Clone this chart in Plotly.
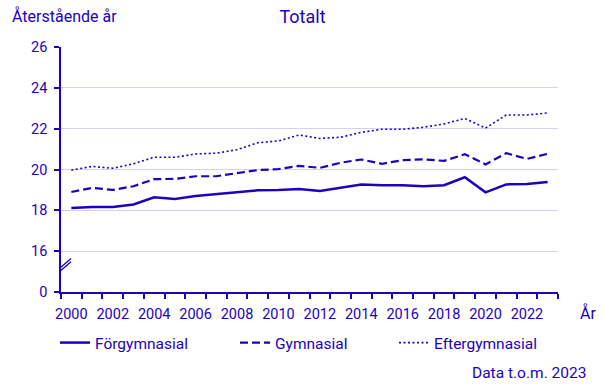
import plotly.graph_objects as go

years = list(range(2000, 2024))
forgymnasial = [18.11, 18.16, 18.16, 18.29, 18.64, 18.56, 18.70, 18.80, 18.88, 18.98, 19.00, 19.05,
                18.95, 19.11, 19.27, 19.23, 19.23, 19.18, 19.23, 19.62, 18.88, 19.27, 19.29, 19.39]
gymnasial = [18.90, 19.10, 19.00, 19.18, 19.53, 19.54, 19.67, 19.67, 19.82, 19.97, 20.02, 20.18,
             20.08, 20.33, 20.49, 20.28, 20.46, 20.50, 20.42, 20.75, 20.25, 20.80, 20.52, 20.77]
eftergymnasial = [19.97, 20.15, 20.06, 20.28, 20.60, 20.60, 20.76, 20.80, 20.97, 21.31, 21.40, 21.69,
                  21.52, 21.58, 21.82, 21.97, 21.97, 22.07, 22.23, 22.50, 22.03, 22.67, 22.67, 22.77]
series_names = ["Förgymnasial", "Gymnasial", "Eftergymnasial"]
ytick_vals = [14, 16, 18, 20, 22, 24, 26]
ytick_text = ["0", "16", "18", "20", "22", "24", "26"]
xtick_vals = list(range(2000, 2024, 2))

C = "#1E00BE"
GRID = "#d3d1f1"
FONT = "Roboto"

# plot area in pixels: x 61..558, y 47..292
PW, PH = 497, 245

fig = go.Figure()
styles = [dict(width=2.5, dash="solid"), dict(width=2.2, dash="8px,4px"), dict(width=1.6, dash="2px,2.5px")]
legend_ids = ["legend", "legend2", "legend3"]
legend_px = [55, 235, 394]
for name, vals, st, lid in zip(series_names, [forgymnasial, gymnasial, eftergymnasial], styles, legend_ids):
    fig.add_trace(go.Scatter(x=years, y=vals, name=name, mode="lines", legend=lid,
                             line=dict(color=C, width=st["width"], dash=st["dash"]),
                             hoverinfo="skip"))

leg_common = dict(orientation="h", xanchor="left", y=-(343 - 292) / PH, yanchor="middle",
                  font=dict(size=15.5, color=C, family=FONT), bgcolor="rgba(0,0,0,0)")
layout_legends = {}
for lid, px in zip(legend_ids, legend_px):
    layout_legends[lid] = dict(x=(px - 61) / PW, **leg_common)

fig.update_layout(
    width=605, height=386,
    margin=dict(l=61, r=47, t=47, b=94, autoexpand=False),
    paper_bgcolor="white", plot_bgcolor="white",
    font=dict(family=FONT, color=C, size=14),
    title=dict(text="Totalt", x=0.5, xref="container", xanchor="center",
               y=1 - 17 / 386, yref="container", yanchor="middle",
               font=dict(size=18, color=C, family=FONT)),
    showlegend=True,
    **layout_legends,
)
fig.update_xaxes(range=[1999.5, 2023.5], tickvals=xtick_vals, ticks="", showgrid=False,
                 showline=True, linecolor=C, linewidth=1.5, zeroline=False,
                 tickfont=dict(size=14.5, color=C), ticklabelstandoff=8,
                 minor=dict(tick0=1999.5, dtick=1, ticks="outside", ticklen=5, tickwidth=1.5,
                            tickcolor=C, showgrid=False))
fig.update_yaxes(range=[14, 26], tickvals=ytick_vals, ticktext=ytick_text, ticks="outside",
                 ticklen=5, tickwidth=1.5, tickcolor=C, showline=True, linecolor=C, linewidth=1.5,
                 gridcolor=GRID, gridwidth=1, zeroline=False, ticklabelstandoff=4,
                 tickfont=dict(size=14.5, color=C))

# axis break symbol
fig.add_shape(type="rect", xref="x", yref="y", xsizemode="pixel", xanchor=1999.5,
              x0=-3, x1=3, y0=14.98, y1=15.57, fillcolor="white", line=dict(width=0), layer="above")
for dy in (0.0, 0.16):
    fig.add_shape(type="line", xref="x", yref="y", xsizemode="pixel", xanchor=1999.5,
                  x0=-7, x1=10, y0=14.76 + dy, y1=15.48 + dy, line=dict(color=C, width=1.3),
                  layer="above")

fig.add_annotation(text="Återstående år", xref="paper", yref="paper", x=-(61 - 10) / PW,
                   xanchor="left", y=1 + (47 - 16) / PH, yanchor="middle", showarrow=False,
                   font=dict(size=16, color=C, family=FONT))
fig.add_annotation(text="År", xref="paper", yref="paper", x=1 + (578 - 558) / PW, xanchor="left",
                   y=-(313 - 292) / PH, yanchor="middle", showarrow=False,
                   font=dict(size=16, color=C, family=FONT))
fig.add_annotation(text="Data t.o.m. 2023", xref="paper", yref="paper", x=1 + (588 - 558) / PW,
                   xanchor="right", y=-(373 - 292) / PH, yanchor="middle", showarrow=False,
                   font=dict(size=15.5, color=C, family=FONT))

fig.write_html("out.html", config={"displayModeBar": False},
               post_script="document.body.style.margin='0px';")
